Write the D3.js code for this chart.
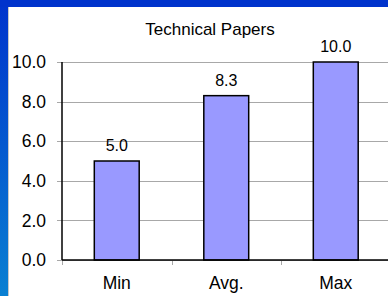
<!DOCTYPE html>
<html><head><meta charset="utf-8">
<script src="https://cdn.jsdelivr.net/npm/d3@7"></script>
<style>
html,body{margin:0;padding:0;background:#fff;overflow:hidden}
svg{display:block;font-family:"Liberation Sans",Arial,sans-serif}
</style></head>
<body>
<svg id="c" width="388" height="296"></svg>
<script>
const categories = ["Min", "Avg.", "Max"];
const values = [5.0, 8.3, 10.0];
const yTicks = [0, 2, 4, 6, 8, 10];
const title = "Technical Papers";

(function () {
const W = 388, H = 296;
const svg = d3.select("#c");
const defs = svg.append("defs");
const lg = defs.append("linearGradient").attr("id","lb").attr("x1",0).attr("y1",0).attr("x2",0).attr("y2",1);
lg.append("stop").attr("offset","0%").attr("stop-color","#0033CC");
lg.append("stop").attr("offset","100%").attr("stop-color","#0A80D2");

svg.append("rect").attr("x",0).attr("y",0).attr("width",W).attr("height",H).attr("fill","#fff");
svg.append("rect").attr("x",0).attr("y",0).attr("width",8).attr("height",H).attr("fill","url(#lb)");
svg.append("rect").attr("x",0).attr("y",0).attr("width",W).attr("height",7).attr("fill","#0033CC");
svg.append("line").attr("x1",8.5).attr("x2",8.5).attr("y1",7).attr("y2",H).attr("stroke","#c8c8c8").attr("stroke-width",1);

const mLeft = 62, mTop = 62, mBottom = 260;
const step = 109.5;
const x = d3.scaleBand().domain(categories).range([mLeft, mLeft + step * categories.length]).padding(0);
const y = d3.scaleLinear().domain([0, 10]).range([mBottom, mTop]);

// gridlines
svg.append("g").selectAll("line").data(yTicks).join("line")
  .attr("x1", mLeft - 5).attr("x2", W)
  .attr("y1", d => Math.round(y(d)) + 0.5).attr("y2", d => Math.round(y(d)) + 0.5)
  .attr("stroke", "#a8a8a8").attr("stroke-width", 1);

// y axis labels
const ya = svg.append("g").attr("transform", `translate(${mLeft},0)`)
  .call(d3.axisLeft(y).tickValues(yTicks).tickFormat(d3.format(".1f")).tickSize(0).tickPadding(16));
ya.select(".domain").remove();
ya.selectAll("text").attr("font-size", 17.5).attr("fill", "#000").attr("font-family", "Liberation Sans, Arial, sans-serif");

// x tick marks
const bounds = categories.map(c => x(c)).concat([x(categories[categories.length-1]) + x.bandwidth()]);
svg.append("g").selectAll("line").data(bounds).join("line")
  .attr("x1", d => Math.round(d) + 0.5).attr("x2", d => Math.round(d) + 0.5)
  .attr("y1", mBottom).attr("y2", mBottom + 5)
  .attr("stroke", "#a8a8a8").attr("stroke-width", 1);

// bars
const bw = x.bandwidth() * 0.41;
svg.append("g").selectAll("rect").data(values).join("rect")
  .attr("x", (d, i) => x(categories[i]) + (x.bandwidth() - bw) / 2)
  .attr("y", d => y(d))
  .attr("width", bw)
  .attr("height", d => mBottom - y(d))
  .attr("fill", "#9999FF").attr("stroke", "#000").attr("stroke-width", 1.5);

// axes lines
svg.append("line").attr("x1", mLeft).attr("x2", mLeft).attr("y1", mTop).attr("y2", mBottom)
  .attr("stroke", "#000").attr("stroke-width", 1.5);
svg.append("line").attr("x1", mLeft).attr("x2", W).attr("y1", mBottom).attr("y2", mBottom)
  .attr("stroke", "#000").attr("stroke-width", 1.5);

// x labels
svg.append("g").selectAll("text").data(categories).join("text")
  .attr("x", d => x(d) + x.bandwidth() / 2).attr("y", 289)
  .attr("text-anchor", "middle").attr("font-size", 17.5).attr("fill", "#000").text(d => d);

// value labels
svg.append("g").selectAll("text").data(values).join("text")
  .attr("x", (d, i) => x(categories[i]) + x.bandwidth() / 2).attr("y", d => y(d) - 10)
  .attr("text-anchor", "middle").attr("font-size", 16).attr("fill", "#000").text(d => d.toFixed(1));

// title
svg.append("text").attr("x", 210).attr("y", 35).attr("text-anchor", "middle")
  .attr("font-size", 17).attr("fill", "#000").text(title);
})();
</script>
</body></html>
